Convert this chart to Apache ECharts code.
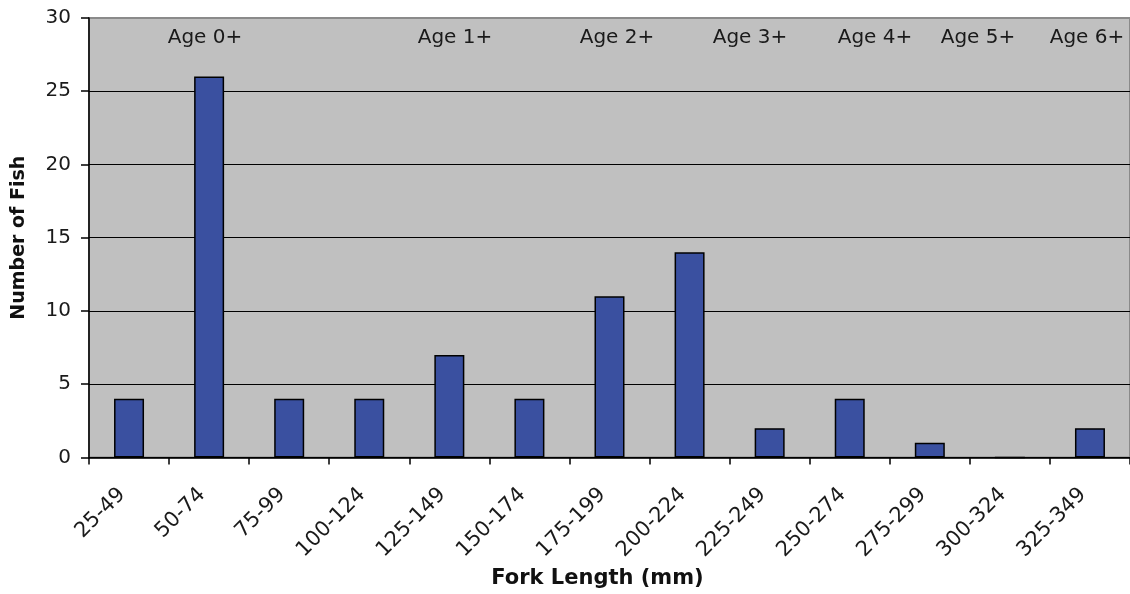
<!DOCTYPE html>
<html>
<head>
<meta charset="utf-8">
<script src="https://cdn.jsdelivr.net/npm/echarts@6/dist/echarts.min.js"></script>
<style>html,body{margin:0;padding:0;background:#fff;}#c{width:1130px;height:594px;}</style>
</head>
<body>
<div id="c"></div>
<script>
const categories = ['25-49','50-74','75-99','100-124','125-149','150-174','175-199','200-224','225-249','250-274','275-299','300-324','325-349'];
const fishCounts = [4, 26, 4, 4, 7, 4, 11, 14, 2, 4, 1, 0, 2];
const yTicks = { min: 0, max: 30, interval: 5 };
const ageLabels = ['Age 0+','Age 1+','Age 2+','Age 3+','Age 4+','Age 5+','Age 6+'];

const FONT = '"DejaVu Sans", sans-serif';
const ageX = [205, 455, 617, 750, 875, 978, 1087];

const chart = echarts.init(document.getElementById('c'), null, {renderer: 'canvas'});
chart.setOption({
  animation: false,
  backgroundColor: '#ffffff',
  grid: {
    left: 89, right: 0, top: 18, bottom: 135,
    show: true, backgroundColor: '#c0c0c0', borderColor: '#8a8a8a', borderWidth: 2
  },
  xAxis: {
    type: 'category',
    data: categories,
    boundaryGap: true,
    name: 'Fork Length (mm)',
    nameLocation: 'middle',
    nameGap: 110,
    nameTextStyle: { fontFamily: FONT, fontSize: 21, fontWeight: 'bold', color: '#111', padding: [0, 24, 0, 0] },
    axisLine: { lineStyle: { color: '#000', width: 1.5 } },
    axisTick: { show: true, length: 7, lineStyle: { color: '#000', width: 1.5 }, alignWithLabel: false },
    axisLabel: { rotate: 45, margin: 27, padding: [0, 10, 0, 0], fontFamily: FONT, fontSize: 21, color: '#1a1a1a', interval: 0 },
    splitLine: { show: false }
  },
  yAxis: {
    type: 'value',
    min: yTicks.min, max: yTicks.max, interval: yTicks.interval,
    name: 'Number of Fish',
    nameLocation: 'middle',
    nameGap: 60,
    nameRotate: 90,
    nameTextStyle: { fontFamily: FONT, fontSize: 19, fontWeight: 'bold', color: '#111' },
    axisLine: { show: true, lineStyle: { color: '#000', width: 1.5 } },
    axisTick: { show: true, length: 8, lineStyle: { color: '#000', width: 1.5 } },
    axisLabel: { margin: 18, fontFamily: FONT, fontSize: 20, color: '#1a1a1a' },
    splitLine: { show: true, showMaxLine: false, lineStyle: { color: '#000', width: 1.2 } }
  },
  series: [{
    type: 'bar',
    data: fishCounts,
    barWidth: 30,
    itemStyle: { color: '#3a50a0', borderColor: '#000', borderWidth: 1.5 }
  }],
  graphic: ageLabels.map((t, i) => ({
    type: 'text',
    x: ageX[i], y: 38,
    style: { text: t, fontFamily: FONT, fontSize: 20, fill: '#1a1a1a', align: 'center', verticalAlign: 'middle' }
  }))
});
</script>
</body>
</html>
